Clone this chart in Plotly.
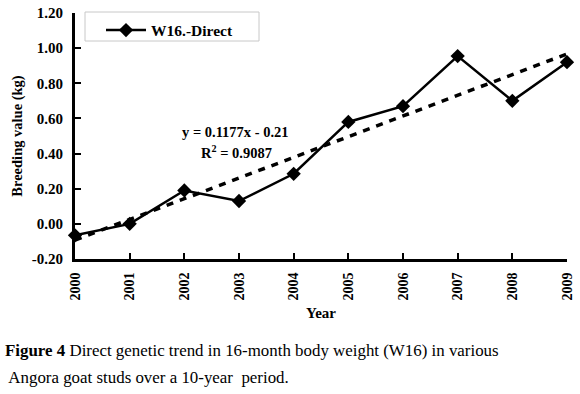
import plotly.graph_objects as go

years = [2000, 2001, 2002, 2003, 2004, 2005, 2006, 2007, 2008, 2009]
breeding_value = [-0.065, 0.00, 0.19, 0.13, 0.285, 0.58, 0.67, 0.955, 0.70, 0.92]
trend_slope = 0.1177
trend_intercept = -0.21
y_ticks = [-0.20, 0.00, 0.20, 0.40, 0.60, 0.80, 1.00, 1.20]
y_tick_labels = ["-0.20", "0.00", "0.20", "0.40", "0.60", "0.80", "1.00", "1.20"]

trend = [trend_slope * (i + 1) + trend_intercept for i in range(len(years))]

FONT = "Liberation Serif, Times New Roman, serif"
PW = 492.0
PH = 246.0

fig = go.Figure()
fig.add_trace(go.Scatter(
    x=years, y=trend, mode="lines", showlegend=False,
    line=dict(color="black", width=3.5, dash="7px,7px"), cliponaxis=False,
))
fig.add_trace(go.Scatter(
    x=years, y=breeding_value, mode="lines+markers", name="W16.-Direct",
    line=dict(color="black", width=2.5),
    marker=dict(symbol="diamond", size=11, color="black"), cliponaxis=False,
))

fig.update_layout(
    width=580, height=394,
    margin=dict(l=75, r=13, t=13, b=135, autoexpand=False),
    paper_bgcolor="white", plot_bgcolor="white",
    font=dict(family=FONT, color="black", size=14),
    showlegend=True,
    legend=dict(
        x=(101 - 75) / PW, y=0.998, xanchor="left", yanchor="top",
        borderwidth=0, bgcolor="rgba(0,0,0,0)",
        font=dict(family=FONT, size=15.5, color="black", weight="bold"),
        itemwidth=40,
    ),
    shapes=[
        dict(type="rect", xref="paper", yref="paper",
             x0=(85 - 75) / PW, x1=(259 - 75) / PW,
             y0=(259 - 41) / PH, y1=(259 - 12) / PH,
             line=dict(color="#c8c8c8", width=1), fillcolor="white", layer="below"),
    ],
    xaxis=dict(
        range=[2000, 2009], tickmode="array", tickvals=years,
        ticktext=[str(y) for y in years], tickangle=-90,
        ticks="inside", ticklen=6, tickwidth=2, tickcolor="black",
        showline=True, linecolor="black", linewidth=3,
        showgrid=False, zeroline=False, automargin=False,
        tickfont=dict(family=FONT, size=14, weight="bold"),
        ticklabelstandoff=5,
        title=dict(text="<b>Year</b>", font=dict(family=FONT, size=15), standoff=8),
    ),
    yaxis=dict(
        range=[-0.20, 1.20], tickmode="array", tickvals=y_ticks,
        ticktext=y_tick_labels,
        ticks="inside", ticklen=6, tickwidth=2, tickcolor="black",
        showline=True, linecolor="black", linewidth=3,
        showgrid=False, zeroline=False, automargin=False,
        tickfont=dict(family=FONT, size=15, weight="bold"),
        ticklabelstandoff=6,
        title=dict(text="<b>Breeding value (kg)</b>", font=dict(family=FONT, size=14.5), standoff=6),
    ),
    annotations=[
        dict(text="<b>y = 0.1177x - 0.21</b>", xref="paper", yref="paper",
             x=(235 - 75) / PW, y=(259 - 132) / PH, xanchor="center", yanchor="middle",
             showarrow=False, font=dict(family=FONT, size=14.5)),
        dict(text="<b>R<sup>2</sup> = 0.9087</b>", xref="paper", yref="paper",
             x=(236 - 75) / PW, y=(259 - 152) / PH, xanchor="center", yanchor="middle",
             showarrow=False, font=dict(family=FONT, size=14.5)),
        dict(text="<b>Figure 4</b> Direct genetic trend in 16-month body weight (W16) in various",
             xref="paper", yref="paper", x=(3 - 75) / PW, y=(259 - 350) / PH,
             xanchor="left", yanchor="middle", showarrow=False,
             font=dict(family=FONT, size=16.9)),
        dict(text=" Angora goat studs over a 10-year  period.",
             xref="paper", yref="paper", x=(3 - 75) / PW, y=(259 - 377) / PH,
             xanchor="left", yanchor="middle", showarrow=False,
             font=dict(family=FONT, size=16.9)),
    ],
)

fig.write_html("out.html", config={"displayModeBar": False},
               post_script="document.body.style.margin='0';")
